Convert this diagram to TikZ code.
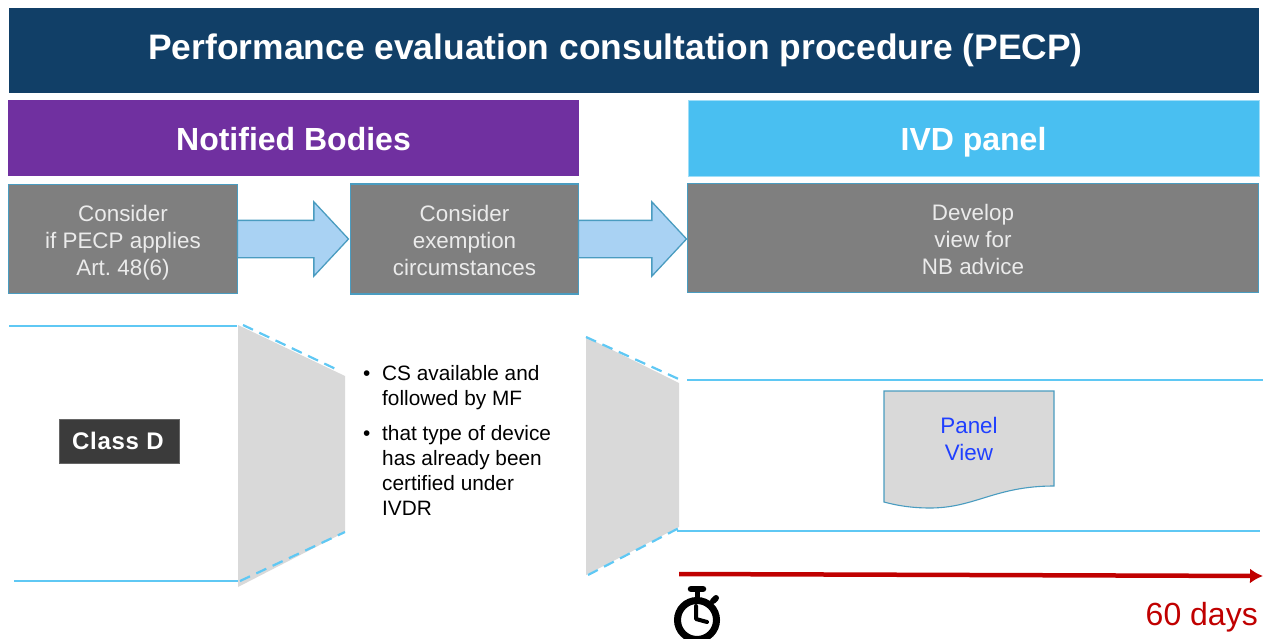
\documentclass[tikz,border=0pt]{standalone}
\usepackage{fontspec}
\setmainfont{Liberation Sans}
\usetikzlibrary{shapes,arrows,positioning,calc,arrows.meta}
\definecolor{titleBlue}{HTML}{113F67}
\definecolor{bodyPurple}{HTML}{7030A0}
\definecolor{panelBlue}{HTML}{49BFF1}
\definecolor{stepGrey}{HTML}{7F7F7F}
\definecolor{stepEdge}{HTML}{4A9CC0}
\definecolor{arrowFill}{HTML}{A9D2F3}
\definecolor{lineBlue}{HTML}{5FC8F4}
\definecolor{funnelGrey}{HTML}{D9D9D9}
\definecolor{classGrey}{HTML}{3B3B3B}
\definecolor{viewBlue}{HTML}{1F3FFF}
\definecolor{timeRed}{HTML}{C00000}
\tikzset{>=latex}
\tikzset{
    banner/.style={align=center,inner sep=0pt,text=white,font=\bfseries\fontsize{32}{38}\selectfont},
    stepbox/.style={align=center,inner sep=0pt,outer sep=0pt,fill=stepGrey,draw=stepEdge,line width=1.1pt,text=white!92!black,font=\fontsize{22.4}{27}\selectfont},
    blockarrow/.style={single arrow,single arrow tip angle=94,single arrow head extend=18.5pt,minimum width=73pt,inner sep=0pt,outer sep=0pt,text height=36pt,text depth=0pt,anchor=tail,fill=arrowFill,draw=stepEdge,line width=1.3pt},
    rowline/.style={draw=lineBlue,line width=2.7pt},
    funnel/.style={fill=funnelGrey,draw=none},
    funneledge/.style={draw=lineBlue,line width=2.2pt,dash pattern=on 11pt off 7pt}
}
\newcommand{\stepdown}{\rule{0pt}{18.3pt}}

\begin{document}
\begin{tikzpicture}[x=1pt,y=-1pt]

    \clip (0,0) rectangle (1263,639);
    \useasboundingbox (0,0) rectangle (1263,639);

    \def\xCentre{634}
    \def\xBodies{293.5}
    \def\xPanel{973.5}
    \def\xFirst{123}
    \def\xSecond{464.5}
    \def\xThird{973}
    \def\yTitle{50.5}
    \def\yHeads{138}
    \def\ySteps{239}

    \node
        [banner,minimum width=1250pt,minimum height=85pt,fill=titleBlue,font=\bfseries\fontsize{35.4}{42}\selectfont]
        at (\xCentre,\yTitle)
        (title) {Performance evaluation consultation procedure (PECP)\hspace*{37pt}};
    \node
        [banner,minimum width=571pt,minimum height=76pt,text height=25pt,text depth=0pt,fill=bodyPurple]
        at (\xBodies,\yHeads)
        (bodies) {Notified Bodies};
    \node
        [banner,minimum width=571pt,minimum height=76pt,text height=25pt,text depth=0pt,fill=panelBlue,draw=lineBlue!60,line width=0.8pt]
        at (\xPanel,\yHeads)
        (panel) {IVD panel};
    \node
        [stepbox,minimum width=229pt,minimum height=109pt]
        at (\xFirst,\ySteps)
        (applies) {\stepdown Consider\\if PECP applies\\\smash{Art.\ 48(6)}};
    \node
        [stepbox,minimum width=228pt,minimum height=110pt]
        at (\xSecond,\ySteps)
        (exemption) {\stepdown Consider\\exemption\\circumstances};
    \node
        [stepbox,minimum width=571pt,minimum height=109pt]
        at (\xThird,238)
        (advice) {\stepdown Develop\\view for\\NB advice};

    \node
        [blockarrow,minimum height=111pt]
        at (applies.east)
        (arrowOne) {};
    \node
        [blockarrow,minimum height=108pt]
        at (exemption.east)
        (arrowTwo) {};

    % left funnel
    \fill[funnel] (238,325) -- (345,376) -- (345,532) -- (238,587) -- cycle;
    \draw[funneledge] (243,325) -- (340,371);
    \draw[funneledge] (240,581) -- (345,532);
    \draw[rowline] (9,326) -- (237,326);
    \draw[rowline] (14,581) -- (238,581);

    % right funnel
    \fill[funnel] (586,337) -- (679,383) -- (679,527) -- (586,575) -- cycle;
    \draw[funneledge] (586,337) -- (683,381);
    \draw[funneledge] (588,575) -- (679,528);
    \draw[rowline] (687,380) -- (1263,380);
    \draw[rowline] (677,531) -- (1260,531);

    \node
        [inner sep=0pt,minimum width=120pt,minimum height=44pt,fill=classGrey,draw=black!60,line width=0.5pt,text=white,font=\bfseries\fontsize{24}{29}\selectfont]
        at (119,441)
        (classD) {\addfontfeature{LetterSpace=3}\hspace*{-2pt}Class D};

    \node
        [inner sep=0pt,anchor=north west,font=\fontsize{20.8}{25}\selectfont]
        at (363,363)
        (reasons) {
            \begin{tabular}{@{}p{13pt}@{\hspace{6pt}}l@{}}
                \textbullet & CS available and\\
                & followed by MF\\[10pt]
                \textbullet & that type of device\\
                & has already been\\
                & certified under\\
                & IVDR
            \end{tabular}};

    % panel view sheet
    \draw[fill=funnelGrey,draw=stepEdge,line width=1.1pt]
        (884,391) -- (1054,391) -- (1054,486)
        .. controls (995,486) and (975,508) .. (930,508)
        .. controls (910,508) and (895,505) .. (884,502) -- cycle;
    \node
        [inner sep=0pt,align=center,text=viewBlue,font=\fontsize{22.4}{27}\selectfont]
        at (969,439)
        (view) {Panel\\View};

    % time line
    \coordinate (clockStart) at (679,574);
    \coordinate (clockEnd) at (1263,576);
    \draw[-{Latex[length=13pt,width=15pt]},draw=timeRed,fill=timeRed,line width=4.5pt] (clockStart) -- (clockEnd);
    \node
        [inner sep=0pt,anchor=east,text=timeRed,font=\fontsize{32}{38}\selectfont]
        at (1258,617)
        (days) {60 days};

    % stopwatch
    \draw[line width=7pt] (697,620) circle (19.5pt);
    \draw[line width=6.5pt,line cap=round] (691,589) -- (703,589);
    \draw[line width=5pt] (697,589) -- (697,598);
    \draw[line width=6pt,line cap=round] (713,601) -- (716,598);
    \draw[line width=4pt,line cap=round,line join=round] (696,606) -- (696,619) -- (707,622);

\end{tikzpicture}
\end{document}
